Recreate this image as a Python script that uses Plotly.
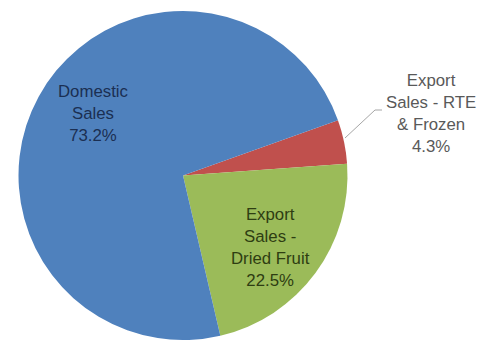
import plotly.graph_objects as go

labels = ["Export<br>Sales - RTE<br>& Frozen", "Export<br>Sales -<br>Dried Fruit", "Domestic<br>Sales"]
values = [4.3, 22.5, 73.2]
colors = ["#C0504D", "#9BBB59", "#4F81BD"]
text_colors = ["#595959", "#2E3D12", "#1B2F52"]
# label block centres in pixels (layout only)
label_pos = [(431, 114), (270, 247), (93, 114)]

W, H = 496, 340
cx, cy, r = 183, 176, 165

fig = go.Figure(go.Pie(
    labels=labels, values=values, sort=False, direction="clockwise",
    rotation=70.4, textinfo="none", hoverinfo="label+percent",
    marker=dict(colors=colors, line=dict(width=0)),
    domain=dict(x=[(cx - r) / W, (cx + r) / W], y=[0, 1 - (cy - r) / H]),
    showlegend=False,
))

for lab, v, c, (px, py) in zip(labels, values, text_colors, label_pos):
    fig.add_annotation(
        x=px / W, y=1 - py / H, xref="paper", yref="paper",
        text=f"{lab}<br>{v:.1f}%", showarrow=False,
        font=dict(family="Liberation Sans, Arial, sans-serif", size=16.8, color=c),
        align="center", xanchor="center", yanchor="middle",
    )

# leader line for the small slice label
pts = [(345, 138), (375, 110), (382, 110)]
path = "M " + " L ".join(f"{x / W} {1 - y / H}" for x, y in pts)
fig.add_shape(type="path", path=path, xref="paper", yref="paper",
              line=dict(color="#A6A6A6", width=1))

fig.update_layout(
    width=W, height=H, margin=dict(l=0, r=0, t=0, b=0),
    paper_bgcolor="white", plot_bgcolor="white",
)
fig.write_html("out.html")
